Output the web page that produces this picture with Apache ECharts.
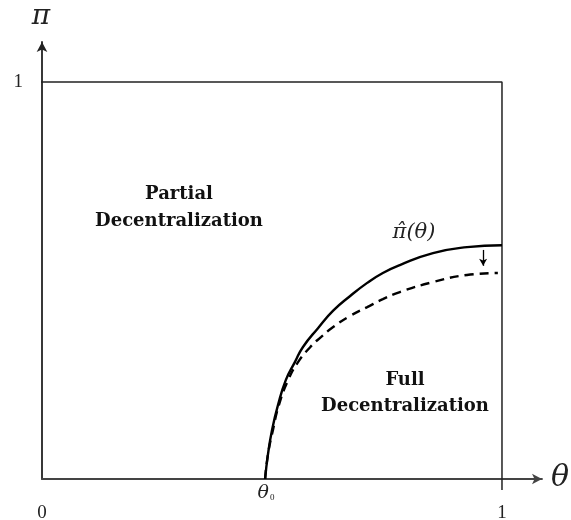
<!DOCTYPE html>
<html>
<head>
<meta charset="utf-8">
<script src="https://cdn.jsdelivr.net/npm/echarts@6/dist/echarts.min.js"></script>
<style>
html,body{margin:0;padding:0;background:#fff;}
#chart{width:571px;height:520px;}
</style>
</head>
<body>
<div id="chart"></div>
<script>
// ---- data ----
const xTickValues = [0, 1];
const yTickValues = [1];
const theta0 = 0.485;
const solidX = [0.485, 0.491, 0.500, 0.513, 0.530, 0.550, 0.567, 0.600, 0.633, 0.670, 0.707, 0.741, 0.778, 0.850, 0.924, 1.000];
const solidY = [0.000, 0.060, 0.123, 0.186, 0.249, 0.295, 0.332, 0.380, 0.424, 0.461, 0.494, 0.519, 0.539, 0.569, 0.584, 0.589];
const dashX = [0.485, 0.491, 0.502, 0.515, 0.535, 0.557, 0.583, 0.607, 0.633, 0.670, 0.707, 0.741, 0.778, 0.850, 0.924, 0.991];
const dashY = [0.000, 0.060, 0.123, 0.186, 0.249, 0.295, 0.332, 0.358, 0.383, 0.411, 0.433, 0.453, 0.471, 0.496, 0.514, 0.519];
const boxX = [-0.03, 1, 1];
const boxY = [1, 1, -0.028];
const shiftArrowX = 0.959;
const shiftArrowY = [0.577, 0.537];

const zip = (a, b) => a.map((v, i) => [v, b[i]]);

const chart = echarts.init(document.getElementById('chart'), null, {renderer: 'canvas'});
const serif = '"Liberation Serif", "DejaVu Serif", serif';
const mathFont = '"DejaVu Serif", serif';

const option = {
  animation: false,
  backgroundColor: '#fff',
  grid: {left: 42, right: 29, top: 42, bottom: 41, outerBoundsMode: 'none', containLabel: false},
  xAxis: {
    type: 'value', min: 0, max: 1.087,
    axisLine: {show: true, onZero: false, symbol: ['none', 'arrow'], symbolSize: [8, 10],
      lineStyle: {color: '#444', width: 1.8}},
    axisTick: {show: false},
    splitLine: {show: false},
    axisLabel: {customValues: xTickValues, margin: 25, color: '#222', fontFamily: serif, fontSize: 19,
      formatter: v => String(v)}
  },
  yAxis: {
    type: 'value', min: 0, max: 1.1008,
    axisLine: {show: true, onZero: false, symbol: ['none', 'arrow'], symbolSize: [8, 10],
      lineStyle: {color: '#222', width: 1.8}},
    axisTick: {show: false},
    splitLine: {show: false},
    axisLabel: {customValues: yTickValues, margin: 19, color: '#222', fontFamily: serif, fontSize: 19,
      formatter: v => String(v)}
  },
  series: [
    {
      type: 'line', data: zip(boxX, boxY), symbol: 'none', clip: false,
      lineStyle: {color: '#222', width: 1.5}, z: 1
    },
    {
      type: 'line', data: zip(solidX, solidY), symbol: 'none', smooth: 0.5,
      lineStyle: {color: '#000', width: 2.4}, z: 3
    },
    {
      type: 'line', data: zip(dashX, dashY), symbol: 'none', smooth: 0.5,
      lineStyle: {color: '#000', width: 2.4, type: [9, 6]}, z: 2,
      markLine: {
        silent: true, symbol: ['none', 'arrow'], symbolSize: [6, 7],
        label: {show: false},
        lineStyle: {color: '#000', width: 1.3, type: 'solid'},
        data: [[{coord: [shiftArrowX, shiftArrowY[0]]}, {coord: [shiftArrowX, shiftArrowY[1]]}]]
      }
    }
  ],
  graphic: [
    {type: 'text', x: 41, y: 17, style: {text: 'π', fontFamily: mathFont, fontStyle: 'italic', fontSize: 28, fill: '#222', align: 'center', verticalAlign: 'middle'}},
    {type: 'text', x: 560, y: 478, style: {text: 'θ', fontFamily: mathFont, fontStyle: 'italic', fontSize: 30, fill: '#222', align: 'center', verticalAlign: 'middle'}},
    {type: 'text', x: 179, y: 208, style: {text: 'Partial\nDecentralization', fontFamily: mathFont, fontWeight: 'bold', fontSize: 18, lineHeight: 27, fill: '#111', align: 'center', verticalAlign: 'middle'}},
    {type: 'text', x: 405, y: 393, style: {text: 'Full\nDecentralization', fontFamily: mathFont, fontWeight: 'bold', fontSize: 18, lineHeight: 26, fill: '#111', align: 'center', verticalAlign: 'middle'}},
    {type: 'text', x: 414, y: 233, style: {
      text: '{p|π̂}{q|(θ)}', align: 'center', verticalAlign: 'middle',
      rich: {
        p: {fontFamily: mathFont, fontStyle: 'italic', fontSize: 21, fill: '#222'},
        q: {fontFamily: mathFont, fontStyle: 'italic', fontSize: 21, fill: '#222'}
      }
    }},
    {type: 'text', x: 266, y: 493, style: {
      text: '{a|θ}{b|0}', align: 'center', verticalAlign: 'middle',
      rich: {
        a: {fontFamily: mathFont, fontStyle: 'italic', fontSize: 19, fill: '#222'},
        b: {fontFamily: serif, fontSize: 9, fill: '#222', padding: [9, 0, 0, 1]}
      }
    }}
  ]
};
chart.setOption(option);
</script>
</body>
</html>
